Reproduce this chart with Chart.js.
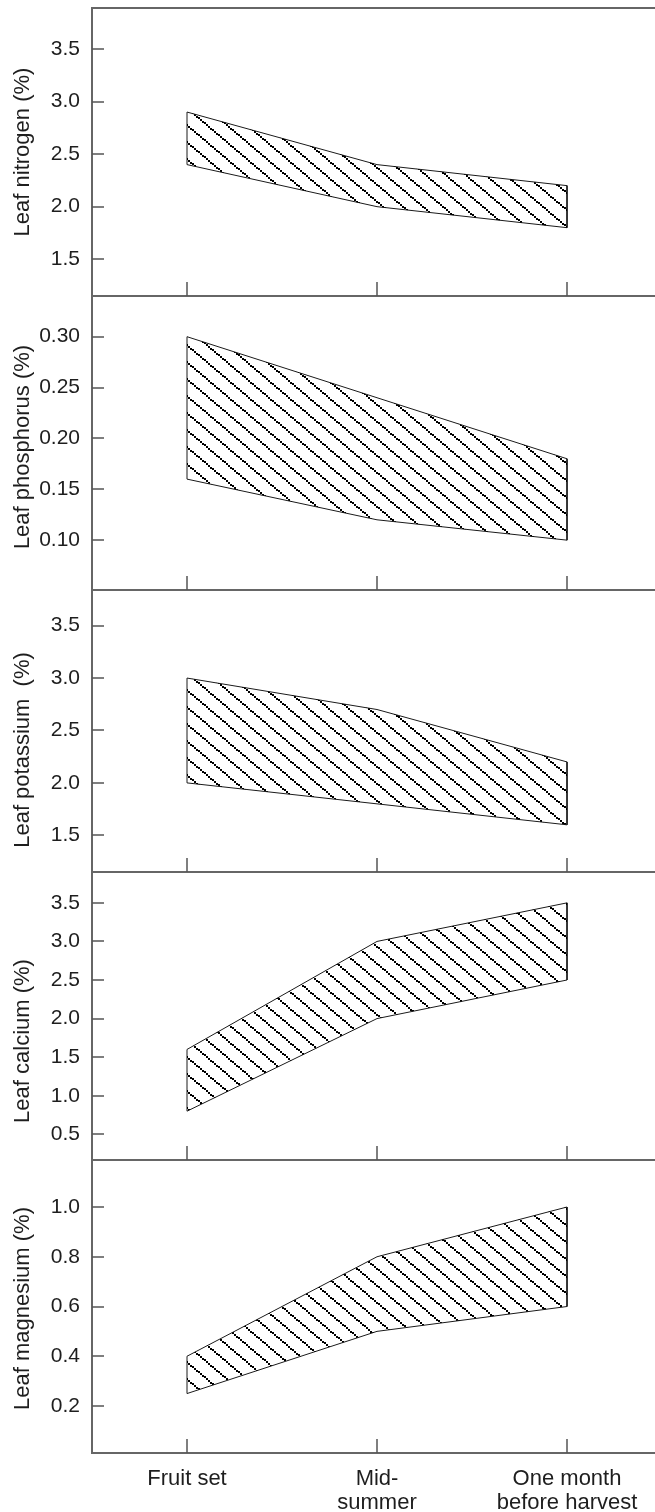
<!DOCTYPE html>
<html>
<head>
<meta charset="utf-8">
<script src="https://cdn.jsdelivr.net/npm/chart.js@4/dist/chart.umd.min.js"></script>
<style>
  html, body { margin: 0; padding: 0; background: #fff; }
  #wrap { position: relative; width: 655px; height: 1512px; overflow: hidden; background: #fff; }
  #wrap canvas { position: absolute; left: 0; }
</style>
</head>
<body>
<div id="wrap"></div>
<script>
// Sampling stages (x axis)
const CATEGORIES = [['Fruit set'], ['Mid-', 'summer'], ['One month', 'before harvest']];
const X_RANGE = [-0.5, 2.463];

// Leaf nitrogen (%) : sufficiency band
const N_UPPER = [2.9, 2.4, 2.2];
const N_LOWER = [2.4, 2.0, 1.8];
const N_TICKS = [1.5, 2.0, 2.5, 3.0, 3.5];
const N_RANGE = [1.15, 3.89];

// Leaf phosphorus (%)
const P_UPPER = [0.30, 0.24, 0.18];
const P_LOWER = [0.16, 0.12, 0.10];
const P_TICKS = [0.10, 0.15, 0.20, 0.25, 0.30];
const P_RANGE = [0.051, 0.340];

// Leaf potassium (%)
const K_UPPER = [3.0, 2.7, 2.2];
const K_LOWER = [2.0, 1.8, 1.6];
const K_TICKS = [1.5, 2.0, 2.5, 3.0, 3.5];
const K_RANGE = [1.15, 3.84];

// Leaf calcium (%)
const CA_UPPER = [1.6, 3.0, 3.5];
const CA_LOWER = [0.8, 2.0, 2.5];
const CA_TICKS = [0.5, 1.0, 1.5, 2.0, 2.5, 3.0, 3.5];
const CA_RANGE = [0.167, 3.90];

// Leaf magnesium (%)
const MG_UPPER = [0.4, 0.8, 1.0];
const MG_LOWER = [0.25, 0.5, 0.6];
const MG_TICKS = [0.2, 0.4, 0.6, 0.8, 1.0];
const MG_RANGE = [0.011, 1.189];

const PANELS = [
  { title: 'Leaf nitrogen (%)',    upper: N_UPPER,  lower: N_LOWER,  ticks: N_TICKS,  range: N_RANGE,  dec: 1 },
  { title: 'Leaf phosphorus (%)',  upper: P_UPPER,  lower: P_LOWER,  ticks: P_TICKS,  range: P_RANGE,  dec: 2 },
  { title: 'Leaf potassium  (%)',  upper: K_UPPER,  lower: K_LOWER,  ticks: K_TICKS,  range: K_RANGE,  dec: 1 },
  { title: 'Leaf calcium (%)',     upper: CA_UPPER, lower: CA_LOWER, ticks: CA_TICKS, range: CA_RANGE, dec: 1 },
  { title: 'Leaf magnesium (%)',   upper: MG_UPPER, lower: MG_LOWER, ticks: MG_TICKS, range: MG_RANGE, dec: 1 }
];

// Layout of the stacked panels (page pixels)
const PAGE_W = 655, PAGE_H = 1512;
const AXIS_X = 92;
const PANEL_TOP = [8, 296, 590, 872, 1160];
const PANEL_BOTTOM = [296, 590, 872, 1160, 1453];
const TITLE_SHIFT = [0, 4, 19, 25, 2];
const PAD = 8;

const FONT_FAMILY = '"Liberation Sans", Arial, Helvetica, sans-serif';
const TEXT_COLOR = '#1e1e1e';
const AXIS_COLOR = '#666';

// Diagonal dotted hatch used inside each band
function makeHatch() {
  const w = 20, h = 17;
  const c = document.createElement('canvas');
  c.width = w; c.height = h;
  const g = c.getContext('2d');
  g.fillStyle = '#000';
  for (let x = 0; x < w; x += 2) {
    const y = Math.round(x * h / w);
    for (const dx of [-w, 0, w]) {
      for (const dy of [-h, 0, h]) g.fillRect(x + dx, y + dy, 2, 2);
    }
  }
  return g.createPattern(c, 'repeat');
}
const HATCH = makeHatch();

// Inward tick marks, stage marks, top frame line and the rotated axis title
const axisMarks = {
  id: 'axisMarks',
  afterDraw(chart, args, opts) {
    const { ctx, chartArea: a, scales: { x, y } } = chart;
    ctx.save();
    ctx.strokeStyle = opts.tickColor;
    ctx.lineWidth = 1.5;
    ctx.beginPath();
    y.ticks.forEach(t => {
      const py = Math.round(y.getPixelForValue(t.value));
      ctx.moveTo(a.left, py);
      ctx.lineTo(a.left + 12, py);
    });
    CATEGORIES.forEach((c, i) => {
      const px = Math.round(x.getPixelForValue(i));
      ctx.moveTo(px, a.bottom);
      ctx.lineTo(px, a.bottom - 14);
    });
    ctx.stroke();
    if (opts.topLine) {
      ctx.strokeStyle = AXIS_COLOR;
      ctx.lineWidth = 2;
      ctx.beginPath();
      ctx.moveTo(a.left - 1, a.top);
      ctx.lineTo(a.right, a.top);
      ctx.stroke();
    }
    ctx.fillStyle = TEXT_COLOR;
    ctx.font = '22px ' + FONT_FAMILY;
    ctx.translate(23, (a.top + a.bottom) / 2 + opts.titleShift);
    ctx.rotate(-Math.PI / 2);
    ctx.textAlign = 'center';
    ctx.textBaseline = 'middle';
    ctx.fillText(opts.title, 0, 0);
    ctx.restore();
  }
};

function points(values) {
  return values.map((v, k) => ({ x: k, y: v }));
}
function outline(upper, lower) {
  const pts = points(upper);
  for (let k = lower.length - 1; k >= 0; k--) pts.push({ x: k, y: lower[k] });
  pts.push({ x: 0, y: upper[0] });
  return pts;
}

const wrap = document.getElementById('wrap');

PANELS.forEach((p, i) => {
  const isLast = i === PANELS.length - 1;
  const top = PANEL_TOP[i] - PAD;
  const height = isLast ? PAGE_H - top : (PANEL_BOTTOM[i] - PANEL_TOP[i]) + 2 * PAD;
  const canvas = document.createElement('canvas');
  canvas.width = PAGE_W;
  canvas.height = height;
  canvas.style.top = top + 'px';
  wrap.appendChild(canvas);

  new Chart(canvas, {
    type: 'line',
    data: {
      datasets: [
        { data: points(p.upper), fill: '+1', backgroundColor: HATCH, borderColor: 'rgba(0,0,0,0)', borderWidth: 1, pointRadius: 0, tension: 0 },
        { data: points(p.lower), fill: false, borderColor: 'rgba(0,0,0,0)', borderWidth: 1, pointRadius: 0, tension: 0 },
        { data: outline(p.upper, p.lower), fill: false, borderColor: '#1a1a1a', borderWidth: 1, pointRadius: 0, tension: 0 }
      ]
    },
    options: {
      responsive: false,
      animation: false,
      devicePixelRatio: 1,
      events: [],
      layout: { padding: { top: PAD, bottom: isLast ? 0 : PAD, left: 0, right: 0 } },
      plugins: {
        legend: { display: false },
        tooltip: { enabled: false },
        axisMarks: { title: p.title, titleShift: TITLE_SHIFT[i], topLine: i === 0, tickColor: '#555' }
      },
      scales: {
        x: {
          type: 'linear',
          min: X_RANGE[0],
          max: X_RANGE[1],
          grid: { display: false, drawTicks: false },
          border: { display: true, color: AXIS_COLOR, width: 2 },
          afterBuildTicks: s => { s.ticks = CATEGORIES.map((c, k) => ({ value: k })); },
          afterFit: s => {
            s.height = isLast ? PAGE_H - PANEL_BOTTOM[i] : 0;
            s.paddingLeft = 0; s.paddingRight = 0;
          },
          ticks: {
            display: isLast,
            autoSkip: false,
            maxRotation: 0,
            padding: 14,
            color: TEXT_COLOR,
            font: { family: FONT_FAMILY, size: 22, lineHeight: 1.1 },
            callback: v => CATEGORIES[v] || ''
          }
        },
        y: {
          type: 'linear',
          min: p.range[0],
          max: p.range[1],
          grid: { display: false, drawTicks: false },
          border: { display: true, color: AXIS_COLOR, width: 2 },
          afterBuildTicks: s => { s.ticks = p.ticks.map(v => ({ value: v })); },
          afterFit: s => {
            s.width = AXIS_X;
            s.paddingTop = 0; s.paddingBottom = 0;
          },
          ticks: {
            padding: 12,
            color: TEXT_COLOR,
            font: { family: FONT_FAMILY, size: 21 },
            callback: v => Number(v).toFixed(p.dec)
          }
        }
      }
    },
    plugins: [axisMarks]
  });
});
</script>
</body>
</html>
